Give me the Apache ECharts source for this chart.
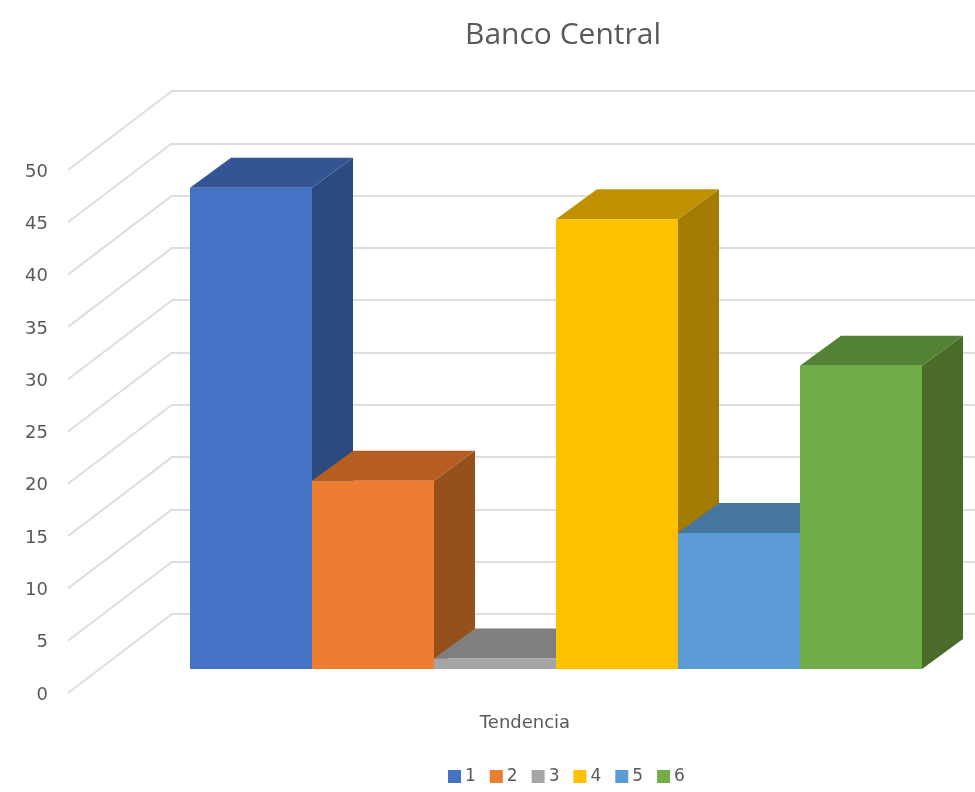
<!DOCTYPE html>
<html>
<head>
<meta charset="utf-8">
<style>html,body{margin:0;padding:0;background:#fff}#chart{width:975px;height:792px}</style>
<script src="https://cdn.jsdelivr.net/npm/echarts@6/dist/echarts.min.js"></script>
</head>
<body>
<div id="chart"></div>
<script>
var titleText = 'Banco Central';
var categories = ['Tendencia'];
var seriesNames = ['1', '2', '3', '4', '5', '6'];
var seriesValues = [46, 18, 1, 43, 13, 29];
var yTicks = [0, 5, 10, 15, 20, 25, 30, 35, 40, 45, 50];
var frontColors = ['#4472C4', '#ED7D31', '#A5A5A5', '#FFC000', '#5B9BD5', '#70AD47'];
var topColors = ['#335593', '#B65D22', '#7F7F7F', '#BF9000', '#4575A1', '#548235'];
var sideColors = ['#2A4A80', '#95501C', '#666666', '#A37B00', '#3B6590', '#4A6C2B'];
var FONT = '"Open Sans", "Noto Sans", sans-serif';
var LABEL_FONT = '"DejaVu Sans", "Open Sans", sans-serif';
var TEXT = '#595959';
var GRIDLINE = '#DEDEDE';
var barDepth = [41, -30];
var wallDepth = [104, -79];

function prism(i) {
  return function (params, api) {
    var base = api.coord([api.value(0), 0]);
    var top = api.coord([api.value(0), api.value(1)]);
    var band = api.size([1, 0])[0];
    var w = band / seriesNames.length;
    var x0 = base[0] - band / 2 + i * w;
    var x1 = x0 + w;
    var dx = barDepth[0], dy = barDepth[1];
    return {
      type: 'group',
      children: [
        { type: 'polygon', shape: { points: [[x1, base[1]], [x1 + dx, base[1] + dy], [x1 + dx, top[1] + dy], [x1, top[1]]] }, style: { fill: sideColors[i] } },
        { type: 'polygon', shape: { points: [[x0, top[1]], [x0 + dx, top[1] + dy], [x1 + dx, top[1] + dy], [x1, top[1]]] }, style: { fill: topColors[i] } },
        { type: 'rect', shape: { x: x0, y: top[1], width: w, height: base[1] - top[1] }, style: { fill: frontColors[i] } }
      ]
    };
  };
}

var series = [{
  type: 'custom',
  name: 'wall',
  xAxisIndex: 2,
  yAxisIndex: 2,
  silent: true,
  z: 1,
  data: yTicks.map(function (v) { return [0, v]; }),
  renderItem: function (params, api) {
    var p = api.coord([0, api.value(1)]);
    var x = params.coordSys.x;
    return { type: 'line', shape: { x1: x, y1: p[1], x2: x + wallDepth[0], y2: p[1] + wallDepth[1] }, style: { stroke: GRIDLINE, lineWidth: 2 } };
  }
}];
seriesNames.forEach(function (name, i) {
  series.push({
    type: 'custom',
    name: name,
    xAxisIndex: 0,
    yAxisIndex: 0,
    z: 5 + i,
    itemStyle: { color: frontColors[i] },
    data: [[0, seriesValues[i]]],
    renderItem: prism(i)
  });
});

var yBase = { type: 'value', min: 0, max: 50, interval: 5 };
var option = {
  backgroundColor: '#ffffff',
  animation: false,
  title: {
    text: titleText,
    left: 558,
    top: 15,
    textAlign: 'center',
    textStyle: { color: TEXT, fontFamily: FONT, fontWeight: 'normal', fontSize: 30 }
  },
  legend: {
    data: seriesNames,
    left: 443,
    top: 763,
    icon: 'rect',
    itemWidth: 13,
    itemHeight: 13,
    itemGap: 14,
    textStyle: { color: TEXT, fontFamily: LABEL_FONT, fontSize: 17, padding: [3, 0, 0, -1] }
  },
  grid: [
    { left: 190, width: 732, top: 146, height: 523 },
    { left: 171, width: 804, top: 91, height: 523 },
    { left: 68, width: 907, top: 170, height: 523 },
    { left: 75, width: 900, top: 172, height: 523 }
  ],
  xAxis: [
    { type: 'category', gridIndex: 0, data: categories, show: false },
    { type: 'category', gridIndex: 1, data: categories, show: false },
    { type: 'category', gridIndex: 2, data: categories, show: false },
    {
      type: 'category', gridIndex: 3, data: categories,
      axisLine: { show: false }, axisTick: { show: false },
      axisLabel: { color: TEXT, fontFamily: LABEL_FONT, fontSize: 18, margin: 19 }
    }
  ],
  yAxis: [
    Object.assign({ gridIndex: 0, show: false }, yBase),
    Object.assign({
      gridIndex: 1,
      axisLine: { show: false }, axisTick: { show: false }, axisLabel: { show: false },
      splitLine: { show: true, lineStyle: { color: GRIDLINE, width: 2 } }
    }, yBase),
    Object.assign({ gridIndex: 2, show: false }, yBase),
    Object.assign({
      gridIndex: 3,
      axisLine: { show: false }, axisTick: { show: false }, splitLine: { show: false },
      axisLabel: { color: TEXT, fontFamily: LABEL_FONT, fontSize: 18, margin: 27 }
    }, yBase)
  ],
  series: series
};
echarts.init(document.getElementById('chart'), null, { renderer: 'canvas' }).setOption(option);
</script>
</body>
</html>
